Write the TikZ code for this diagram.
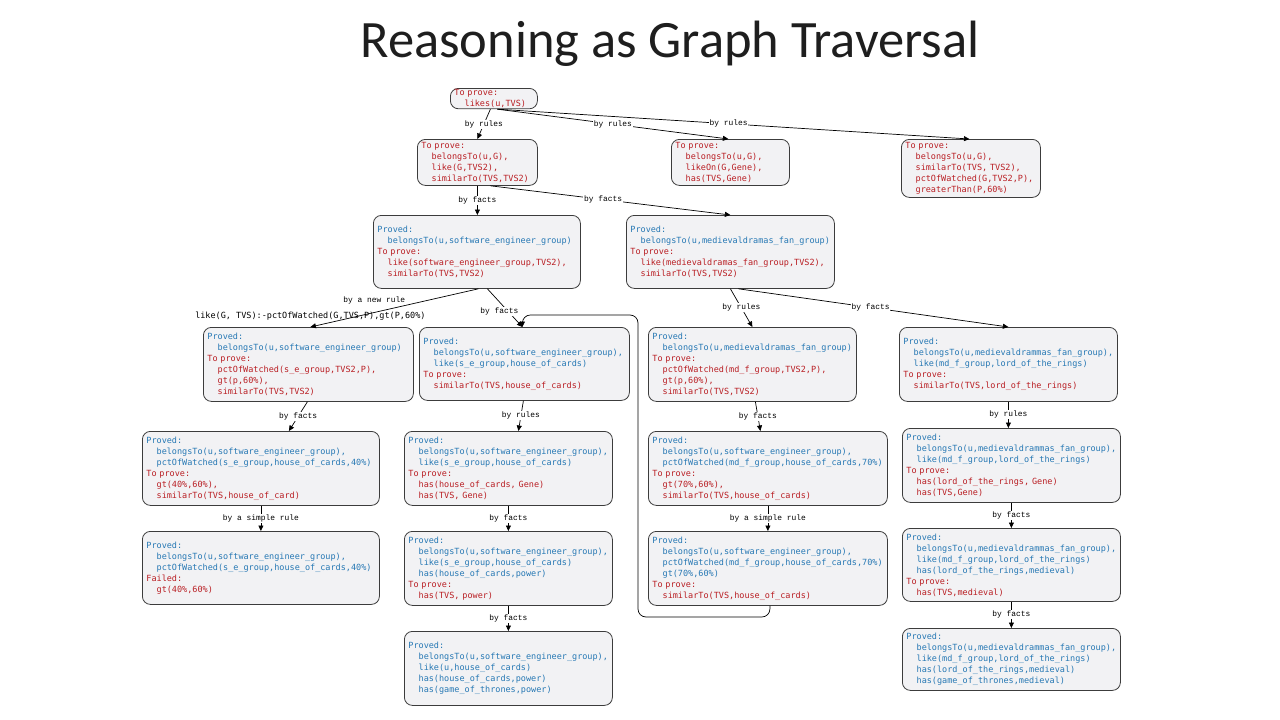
\documentclass[tikz,border=0pt]{standalone}
\usepackage{fontspec}
\setmainfont{Carlito}
\newfontfamily\boxfam{DejaVu Sans Mono}
\newfontfamily\lblfam{Liberation Mono}
\newfontfamily\titlefam{Carlito}
\usetikzlibrary{arrows.meta,calc}
\definecolor{pblue}{RGB}{38,120,180}
\definecolor{pred}{RGB}{185,30,35}
\definecolor{boxfill}{RGB}{242,242,244}
\definecolor{boxdraw}{RGB}{60,60,60}
\definecolor{titlecol}{RGB}{30,30,30}
\newcommand\ii{\hspace*{1.204em}}
\begin{document}
\begin{tikzpicture}[x=1pt,y=-1pt,
  box/.style={draw=boxdraw, fill=boxfill, rounded corners=8pt, line width=0.8pt,
    inner xsep=4pt, inner ysep=1pt, align=left, anchor=north west,
    font=\boxfam\fontsize{8.5}{11}\selectfont},
  arr/.style={-{Triangle[length=5.5pt,width=5pt]}, line width=0.7pt, black},
  lbl/.style={font=\lblfam\fontsize{7.9}{9}\selectfont, fill=white, inner sep=0.8pt}]
\useasboundingbox (0,0) rectangle (1280,720);
\fill[white] (0,0) rectangle (1280,720);

\node[font=\titlefam\fontsize{52.5}{60}\selectfont, text=titlecol, anchor=base] (title) at (670,57) {Reasoning as Graph Traversal};

% level 0
\node[box, text width=79pt, minimum height=20pt] (R) at (450,88)
 {\color{pred}To prove:\\\ii likes(u,TVS)};

% level 1
\node[box, text width=112pt, minimum height=46pt] (A1) at (417,139)
 {\color{pred}To prove:\\\ii belongsTo(u,G),\\\ii like(G,TVS2),\\\ii similarTo(TVS,TVS2)};
\node[box, text width=110pt, minimum height=46pt] (A2) at (671,139)
 {\color{pred}To prove:\\\ii belongsTo(u,G),\\\ii likeOn(G,Gene),\\\ii has(TVS,Gene)};
\node[box, text width=131pt, minimum height=58pt] (A3) at (901,139)
 {\color{pred}To prove:\\\ii belongsTo(u,G),\\\ii similarTo(TVS, TVS2),\\\ii pctOfWatched(G,TVS2,P),\\\ii greaterThan(P,60\%)};

% level 2
\node[box, text width=199pt, minimum height=73pt] (B1) at (373,215)
 {\color{pblue}Proved:\\\ii belongsTo(u,software\_engineer\_group)\\\color{pred}To prove:\\\ii like(software\_engineer\_group,TVS2),\\\ii similarTo(TVS,TVS2)};
\node[box, text width=200pt, minimum height=73pt] (B2) at (626,215)
 {\color{pblue}Proved:\\\ii belongsTo(u,medievaldramas\_fan\_group)\\\color{pred}To prove:\\\ii like(medievaldramas\_fan\_group,TVS2),\\\ii similarTo(TVS,TVS2)};

% level 3
\node[box, text width=202pt, minimum height=74pt] (C1) at (203,327)
 {\color{pblue}Proved:\\\ii belongsTo(u,software\_engineer\_group)\\\color{pred}To prove:\\\ii pctOfWatched(s\_e\_group,TVS2,P),\\\ii gt(p,60\%),\\\ii similarTo(TVS,TVS2)};
\node[box, text width=202pt, minimum height=73pt] (C2) at (419,327)
 {\color{pblue}Proved:\\\ii belongsTo(u,software\_engineer\_group),\\\ii like(s\_e\_group,house\_of\_cards)\\\color{pred}To prove:\\\ii similarTo(TVS,house\_of\_cards)};
\node[box, text width=200pt, minimum height=74pt] (C3) at (648,327)
 {\color{pblue}Proved:\\\ii belongsTo(u,medievaldramas\_fan\_group)\\\color{pred}To prove:\\\ii pctOfWatched(md\_f\_group,TVS2,P),\\\ii gt(p,60\%),\\\ii similarTo(TVS,TVS2)};
\node[box, text width=210pt, minimum height=74pt] (C4) at (899,327)
 {\color{pblue}Proved:\\\ii belongsTo(u,medievaldrammas\_fan\_group),\\\ii like(md\_f\_group,lord\_of\_the\_rings)\\\color{pred}To prove:\\\ii similarTo(TVS,lord\_of\_the\_rings)};

% level 4
\node[box, text width=229pt, minimum height=74pt] (D1) at (142,431)
 {\color{pblue}Proved:\\\ii belongsTo(u,software\_engineer\_group),\\\ii pctOfWatched(s\_e\_group,house\_of\_cards,40\%)\\\color{pred}To prove:\\\ii gt(40\%,60\%),\\\ii similarTo(TVS,house\_of\_card)};
\node[box, text width=200pt, minimum height=74pt] (D2) at (404,431)
 {\color{pblue}Proved:\\\ii belongsTo(u,software\_engineer\_group),\\\ii like(s\_e\_group,house\_of\_cards)\\\color{pred}To prove:\\\ii has(house\_of\_cards, Gene)\\\ii has(TVS, Gene)};
\node[box, text width=231pt, minimum height=74pt] (D3) at (648,431)
 {\color{pblue}Proved:\\\ii belongsTo(u,software\_engineer\_group),\\\ii pctOfWatched(md\_f\_group,house\_of\_cards,70\%)\\\color{pred}To prove:\\\ii gt(70\%,60\%),\\\ii similarTo(TVS,house\_of\_cards)};
\node[box, text width=210pt, minimum height=74pt] (D4) at (902,428)
 {\color{pblue}Proved:\\\ii belongsTo(u,medievaldrammas\_fan\_group),\\\ii like(md\_f\_group,lord\_of\_the\_rings)\\\color{pred}To prove:\\\ii has(lord\_of\_the\_rings, Gene)\\\ii has(TVS,Gene)};

% level 5
\node[box, text width=229pt, minimum height=73pt] (E1) at (142,531)
 {\color{pblue}Proved:\\\ii belongsTo(u,software\_engineer\_group),\\\ii pctOfWatched(s\_e\_group,house\_of\_cards,40\%)\\\color{pred}Failed:\\\ii gt(40\%,60\%)};
\node[box, text width=200pt, minimum height=74pt] (E2) at (404,531)
 {\color{pblue}Proved:\\\ii belongsTo(u,software\_engineer\_group),\\\ii like(s\_e\_group,house\_of\_cards)\\\ii has(house\_of\_cards,power)\\\color{pred}To prove:\\\ii has(TVS, power)};
\node[box, text width=231pt, minimum height=74pt] (E3) at (648,531)
 {\color{pblue}Proved:\\\ii belongsTo(u,software\_engineer\_group),\\\ii pctOfWatched(md\_f\_group,house\_of\_cards,70\%)\\\ii gt(70\%,60\%)\\\color{pred}To prove:\\\ii similarTo(TVS,house\_of\_cards)};
\node[box, text width=210pt, minimum height=73pt] (E4) at (902,528)
 {\color{pblue}Proved:\\\ii belongsTo(u,medievaldrammas\_fan\_group),\\\ii like(md\_f\_group,lord\_of\_the\_rings)\\\ii has(lord\_of\_the\_rings,medieval)\\\color{pred}To prove:\\\ii has(TVS,medieval)};

% level 6
\node[box, text width=200pt, minimum height=74pt] (F2) at (404,631)
 {\color{pblue}Proved:\\\ii belongsTo(u,software\_engineer\_group),\\\ii like(u,house\_of\_cards)\\\ii has(house\_of\_cards,power)\\\ii has(game\_of\_thrones,power)};
\node[box, text width=210pt, minimum height=62pt] (F4) at (902,628)
 {\color{pblue}Proved:\\\ii belongsTo(u,medievaldrammas\_fan\_group),\\\ii like(md\_f\_group,lord\_of\_the\_rings)\\\ii has(lord\_of\_the\_rings,medieval)\\\ii has(game\_of\_thrones,medieval)};

% connectors
\draw[arr] ($(R.south)+(-3.5,0)$) -- node[lbl]{by rules} (A1.north);
\draw[arr] ($(R.south)+(3.5,0)$) -- node[lbl]{by rules} ($(A2.north)+(-2,0)$);
\draw[arr] ($(R.south)+(3.5,0)$) -- node[lbl, pos=0.49]{by rules} ($(A3.north)+(-1.5,0)$);

\draw[arr] (A1.south) -- node[lbl]{by facts} (A1.south |- B1.north);
\draw[arr] ($(A1.south)+(13,0)$) -- node[lbl, pos=0.47]{by facts} (B2.north);

\draw[arr] ($(B1.south)+(1.5,0)$) -- node[lbl, pos=0.43, anchor=south east]{by a new rule}
  node[at end, above=5.5pt, font=\boxfam\fontsize{8.5}{10}\selectfont, inner sep=0.8pt]{like(G, TVS):-pctOfWatched(G,TVS,P),gt(P,60\%)} ($(C1.north)+(2,0)$);
\draw[arr] ($(B1.south)+(10.5,0)$) -- node[lbl, pos=0.6, xshift=-9pt]{by facts} ($(C2.north)+(-2,0)$);
\draw[arr] (B2.south) -- node[lbl]{by rules} (C3.north);
\draw[arr] ($(B2.south)+(8,0)$) -- node[lbl, pos=0.49]{by facts} (C4.north);

\draw[arr] ($(C1.south)+(-1,0)$) -- node[lbl]{by facts} ($(D1.north)+(28,0)$);
\draw[arr] ($(C2.south)+(-1,0)$) -- node[lbl]{by rules} ($(D2.north)+(10,0)$);
\draw[arr] ($(C3.south)+(3,0)$) -- node[lbl]{by facts} ($(D3.north)+(-7.5,0)$);
\draw[arr] (C4.south) -- node[lbl]{by rules} ($(D4.north)+(-3,0)$);

\draw[arr] (D1.south) -- node[lbl]{by a simple rule} (E1.north);
\draw[arr] (D2.south) -- node[lbl]{by facts} (E2.north);
\draw[arr] (D3.south) -- node[lbl]{by a simple rule} (E3.north);
\draw[arr] (D4.south) -- node[lbl]{by facts} (E4.north);

\draw[arr] (E2.south) -- node[lbl]{by facts} (F2.north);
\draw[arr] (E4.south) -- node[lbl]{by facts} (F4.north);

\coordinate (loopbl) at (638,617);
\coordinate (looptl) at (638,315);
\draw[arr, rounded corners=8pt] ($(E3.south)+(2,0)$) |- (loopbl) -- (looptl) -| ($(C2.north)+(-2,0)$);
\end{tikzpicture}
\end{document}
